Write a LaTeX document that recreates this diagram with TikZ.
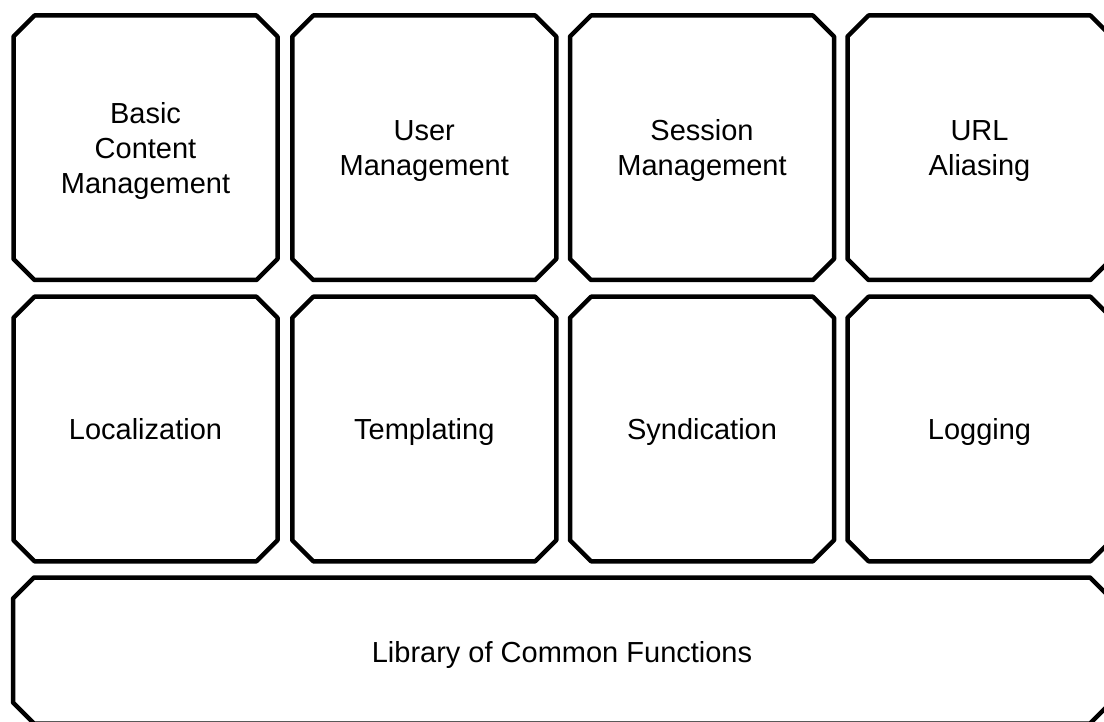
\documentclass[tikz,border=0pt]{standalone}
\usepackage{fontspec}
\setmainfont{Liberation Sans}
\begin{document}
\begin{tikzpicture}[x=1pt,y=-1pt,
  modbox/.style={rectangle, draw=none, inner sep=0pt, outer sep=0pt, align=center,
    font=\fontsize{29pt}{35pt}\selectfont, text depth=0pt, text height=20.8pt},
  cellbox/.style={modbox, minimum width=264pt, minimum height=264.5pt},
  twoline/.style={text height=55.8pt},
  threeline/.style={text height=90.8pt},
  chamfer/.style={draw=black, line width=4.5pt, line join=round}]
\useasboundingbox (0,0) rectangle (1104,722);
\clip (0,0) rectangle (1104,722);
\fill[white] (0,0) rectangle (1104,722);
\node[cellbox, threeline] (bcm) at (145.5,147.75) {Basic\\Content\\Management};
\node[cellbox, twoline] (um)  at (424.25,147.75) {User\\Management};
\node[cellbox, twoline] (sm)  at (702,147.75) {Session\\Management};
\node[cellbox, twoline] (url) at (979.5,147.75) {URL\\Aliasing};
\node[cellbox] (loc) at (145.5,429) {Localization};
\node[cellbox] (tpl) at (424.25,429) {Templating};
\node[cellbox] (syn) at (702,429) {Syndication};
\node[cellbox] (log) at (979.5,429) {Logging};
\node[modbox, text height=24.8pt, minimum width=1098pt, minimum height=146pt] (lib) at (562,650.5) {Library of Common Functions};
\foreach \n in {bcm,um,sm,url,loc,tpl,syn,log,lib}{
  \draw[chamfer] ([xshift=21pt]\n.north west) -- ([xshift=-21pt]\n.north east)
    -- ([yshift=-21pt]\n.north east) -- ([yshift=21pt]\n.south east)
    -- ([xshift=-21pt]\n.south east) -- ([xshift=21pt]\n.south west)
    -- ([yshift=21pt]\n.south west) -- ([yshift=-21pt]\n.north west) -- cycle;
}
\end{tikzpicture}
\end{document}
